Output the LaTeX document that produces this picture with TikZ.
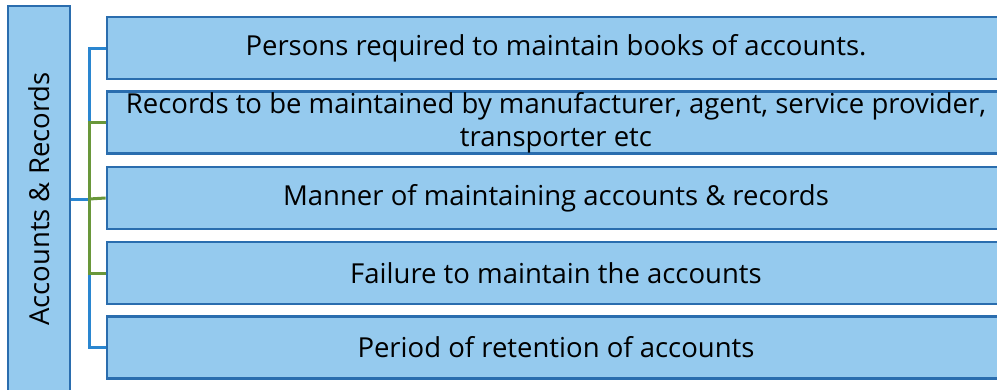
\documentclass[tikz,border=0pt]{standalone}
\usepackage{fontspec}
\setmainfont{Open Sans}
\usetikzlibrary{positioning}
\definecolor{boxfill}{HTML}{95CAEE}
\definecolor{boxline}{HTML}{2A6DAE}
\definecolor{lineblue}{HTML}{2A86D0}
\definecolor{linegreen}{HTML}{69973A}
\tikzset{
  item/.style={draw=boxline,fill=boxfill,line width=2.8pt,minimum width=898pt,
    minimum height=62pt,inner sep=0pt,align=center,
    font=\fontsize{27.5}{33}\selectfont},
  conb/.style={draw=lineblue,line width=3pt},
  cong/.style={draw=linegreen,line width=3pt}
}
\begin{document}
\begin{tikzpicture}[x=1pt,y=-1pt]
    \useasboundingbox (0,0) rectangle (997,389);
    \clip (0,0) rectangle (997,389);
    % left heading
    \node[item,rotate=90,minimum width=386pt,minimum height=62pt] (acc) at (39,199) {Accounts \& Records};
    % the five topics
    \node[item] (p1) at (556,48) {Persons required to maintain books of accounts.};
    \node[item] (p2) at (556,122.5) {Records to be maintained by manufacturer, agent, service provider,\\transporter etc};
    \node[item] (p3) at (556,198) {Manner of maintaining accounts \& records};
    \node[item] (p4) at (556,273) {Failure to maintain the accounts};
    \node[item] (p5) at (556,347.5) {Period of retention of accounts};
    % connectors
    \coordinate (jn) at (89,199);
    \draw[conb] (acc.south) -- (jn);
    \draw[conb] (p1.west) -| (jn |- p2.west);
    \draw[conb] (p5.west) -| (jn |- p4.west);
    \draw[cong] (p2.west) -| (jn |- p4.west) -- (p4.west);
    \draw[cong] (jn) -- (p3.west);
\end{tikzpicture}
\end{document}
